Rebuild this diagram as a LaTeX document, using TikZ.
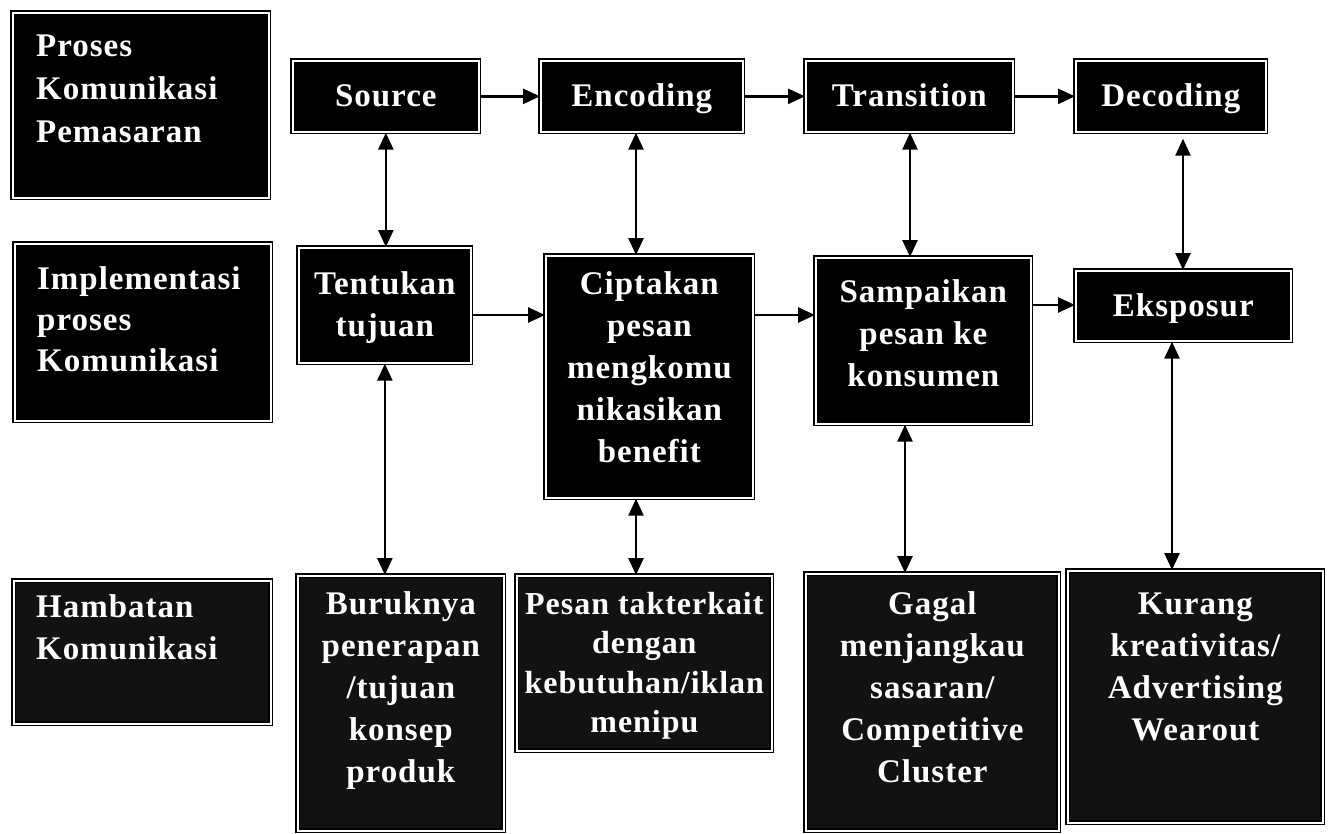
\documentclass[tikz,border=0pt]{standalone}
\usepackage{fontspec}
\setmainfont[LetterSpace=3]{Liberation Serif}
\usetikzlibrary{arrows.meta}
\tikzset{
  box/.style={draw=black, double=white, double distance=1.8pt, line width=1.7pt, fill=black, inner sep=0pt, anchor=north west},
  nbox/.style={box, fill=black!93},
  txt/.style={text=white, font=\bfseries\fontsize{33}{42}\selectfont, align=center, inner sep=0pt},
  onetxt/.style={txt, text height=22pt, text depth=8pt},
  ltxt/.style={text=white, font=\bfseries\fontsize{33}{43}\selectfont, align=left, inner sep=0pt, anchor=north west},
  ttxt/.style={txt, anchor=north},
  tip/.tip={Triangle[length=17pt,width=15pt]},
  arr/.style={line width=2.6pt, -tip},
  darr/.style={line width=2.6pt, tip-tip},
}
\begin{document}
\begin{tikzpicture}[x=1pt,y=-1pt]
\useasboundingbox (0,0) rectangle (1331,833);
% left labels
\node[box, minimum width=256pt, minimum height=185pt] (lab1) at (12,12) {};
\node[ltxt] (lab1t) at (36,35) {Proses\\Komunikasi\\Pemasaran};
\node[box, minimum width=256pt, minimum height=177pt] (lab2) at (14,243) {};
\node[ltxt, font=\bfseries\fontsize{33}{41}\selectfont] (lab2t) at (37,266) {Implementasi\\proses\\Komunikasi};
\node[nbox, minimum width=257pt, minimum height=143pt] (lab3) at (13,580) {};
\node[ltxt, font=\bfseries\fontsize{33}{42}\selectfont] (lab3t) at (36,594) {Hambatan\\Komunikasi};
% top row
\node[box, minimum width=186pt, minimum height=71pt] (src) at (292,60) {};
\node[onetxt] at ([yshift=-3pt]src.center) {Source};
\node[box, minimum width=202pt, minimum height=71pt] (enc) at (540,60) {};
\node[onetxt] at ([yshift=-3pt]enc.center) {Encoding};
\node[box, minimum width=207pt, minimum height=71pt] (trn) at (805,60) {};
\node[onetxt] at ([yshift=-3pt]trn.center) {Transition};
\node[box, minimum width=190pt, minimum height=71pt] (dec) at (1075,60) {};
\node[onetxt] at ([yshift=-3pt]dec.center) {Decoding};
% middle row
\node[box, minimum width=172pt, minimum height=115pt] (ten) at (298,247) {};
\node[txt] at ([yshift=-2pt]ten.center) {Tentukan\\tujuan};
\node[box, minimum width=207pt, minimum height=242pt] (cip) at (545,255) {};
\node[txt] at ([yshift=10pt]cip.center) {Ciptakan\\pesan\\mengkomu\\nikasikan\\benefit};
\node[box, minimum width=215pt, minimum height=166pt] (sam) at (815,257) {};
\node[txt] at ([yshift=8pt]sam.center) {Sampaikan\\pesan ke\\konsumen};
\node[box, minimum width=215pt, minimum height=70pt] (eks) at (1075,270) {};
\node[onetxt] at ([yshift=-4pt]eks.center) {Eksposur};
% bottom row
\node[nbox, minimum width=206pt, minimum height=255pt] (bur) at (297,575) {};
\node[ttxt] at ([yshift=-16pt]bur.north) {Buruknya\\penerapan\\/tujuan\\konsep\\produk};
\node[nbox, minimum width=255pt, minimum height=175pt] (pes) at (516,575) {};
\node[ttxt, font=\bfseries\fontsize{32}{39.5}\selectfont] at ([yshift=-17pt]pes.north) {Pesan takterkait\\dengan\\kebutuhan/iklan\\menipu};
\node[nbox, minimum width=253pt, minimum height=257pt] (gag) at (805,573) {};
\node[ttxt] at ([yshift=-18pt]gag.north) {Gagal\\menjangkau\\sasaran/\\Competitive\\Cluster};
\node[nbox, minimum width=255pt, minimum height=252pt] (kur) at (1067,570) {};
\node[ttxt] at ([yshift=-23pt]kur.north) {Kurang\\kreativitas/\\Advertising\\Wearout};
% reference coordinates for connector lines
\coordinate (r2) at (0,315);
\coordinate (r2b) at (0,305);
\coordinate (c2) at (636,0);
\coordinate (c3) at (910,0);
\coordinate (c3b) at (905,0);
\coordinate (c4) at (1183,0);
\coordinate (c4b) at (1172,0);
% horizontal arrows
\draw[arr] (src.east) -- (enc.west);
\draw[arr] (enc.east) -- (trn.west);
\draw[arr] (trn.east) -- (dec.west);
\draw[arr] (ten.east |- r2) -- (cip.west |- r2);
\draw[arr] (cip.east |- r2) -- (sam.west |- r2);
\draw[arr] (sam.east |- r2b) -- (eks.west |- r2b);
% vertical double arrows
\draw[darr] (src.south) -- (src.south |- ten.north);
\draw[darr] (c2 |- enc.south) -- (c2 |- cip.north);
\draw[darr] (c3 |- trn.south) -- (c3 |- sam.north);
\draw[darr] ([yshift=-6pt]c4 |- dec.south) -- (c4 |- eks.north);
\draw[darr] (ten.south) -- (ten.south |- bur.north);
\draw[darr] (c2 |- cip.south) -- (c2 |- pes.north);
\draw[darr] (c3b |- sam.south) -- (c3b |- gag.north);
\draw[darr] (c4b |- eks.south) -- (c4b |- kur.north);
\end{tikzpicture}
\end{document}
